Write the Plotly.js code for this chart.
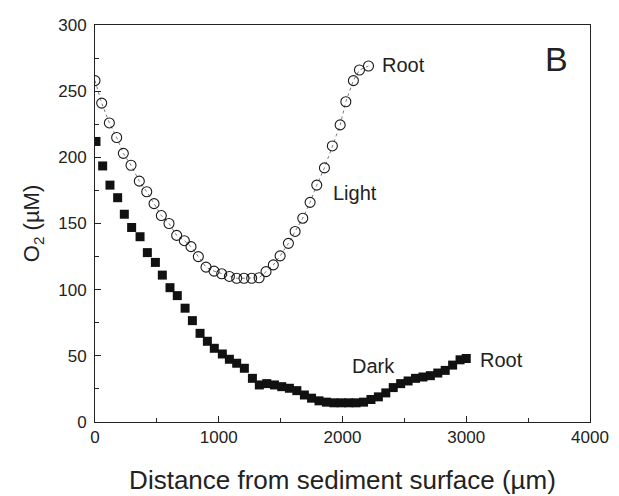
<!DOCTYPE html>
<html>
<head>
<meta charset="utf-8">
<script src="https://cdn.plot.ly/plotly-3.0.1.min.js"></script>
<style>html,body{margin:0;padding:0;background:#fff;}#chart{width:619px;height:496px;}</style>
</head>
<body>
<div id="chart"></div>
<script>
// Light (open circles)
const lightX = [0, 54, 116, 175, 229, 291, 358, 418, 477, 536, 598, 660, 722, 776, 835, 897, 962, 1024, 1086, 1145, 1204, 1266, 1326, 1382, 1441, 1496, 1563, 1617, 1679, 1738, 1792, 1854, 1918, 1981, 2027, 2088, 2137, 2210];
const lightY = [258, 241, 226, 215, 203, 194, 182, 174, 165, 156, 150, 141, 137, 132.5, 125, 117, 114, 112, 110, 108.6, 108.6, 108.6, 109, 113.6, 118.7, 125.5, 135, 144, 154, 166, 179, 192, 208.6, 224.5, 242, 258, 266, 269];
// Dark (filled squares)
const darkX = [8, 62, 121, 183, 237, 296, 364, 423, 488, 544, 606, 665, 728, 787, 849, 908, 964, 1029, 1086, 1145, 1207, 1272, 1328, 1388, 1450, 1509, 1571, 1631, 1692, 1750, 1810, 1870, 1930, 1990, 2050, 2110, 2170, 2230, 2290, 2350, 2410, 2470, 2530, 2590, 2650, 2710, 2770, 2830, 2890, 2950, 3000];
const darkY = [212, 193.5, 179, 169.5, 157, 147, 140, 128, 120.6, 111, 101.5, 95.5, 86, 76.6, 67, 61, 55.7, 51.4, 47.4, 44.4, 40.6, 33, 28, 29, 28, 26.7, 25.5, 23.7, 20.4, 18, 16, 15, 14.5, 14.5, 14.5, 14.5, 15, 17, 19, 22, 26, 29, 31, 33, 34, 35, 37, 39, 43, 47, 48];
const labelText = ["Root", "Light", "Dark", "Root", "B"];
const labelX = [2320, 1924, 2078, 3110, 3638];
const labelY = [270, 173, 42, 46.5, 274];

const FONT = "Liberation Sans, Arial, Helvetica, sans-serif";

const traces = [
  {x: lightX, y: lightY, type: 'scatter', mode: 'lines+markers',
   line: {color: '#555', width: 0.8, dash: 'dot'},
   marker: {symbol: 'circle-open', size: 10, color: '#1a1a1a', line: {width: 1.1, color: '#1a1a1a'}}},
  {x: darkX, y: darkY, type: 'scatter', mode: 'markers',
   marker: {symbol: 'square', size: 9, color: '#111', line: {width: 0}}}
];

const annotations = labelText.map((t, i) => ({
  x: labelX[i], y: labelY[i], xref: 'x', yref: 'y', text: t, showarrow: false,
  xanchor: 'left', yanchor: 'middle', xshift: -2,
  font: {family: FONT, size: i === 4 ? 34 : 20, color: '#222'}
}));

const layout = {
  width: 619, height: 496,
  margin: {l: 95, r: 29, t: 25, b: 74},
  paper_bgcolor: '#fff', plot_bgcolor: '#fff',
  showlegend: false,
  font: {family: FONT, color: '#222'},
  xaxis: {
    range: [0, 4000], dtick: 1000, tick0: 0,
    ticks: 'inside', ticklen: 6, tickwidth: 1, tickcolor: '#222',
    minor: {dtick: 500, ticks: 'inside', ticklen: 4, tickcolor: '#222'},
    showgrid: false, zeroline: false,
    showline: true, linecolor: '#222', linewidth: 1, mirror: true,
    tickfont: {size: 17, family: FONT, color: '#222'},
    title: {text: 'Distance from sediment surface (µm)', font: {size: 26, family: FONT, color: '#222'}, standoff: 24}
  },
  yaxis: {
    range: [0, 300], dtick: 50, tick0: 0,
    ticks: 'inside', ticklen: 6, tickwidth: 1, tickcolor: '#222',
    minor: {dtick: 25, ticks: 'inside', ticklen: 4, tickcolor: '#222'},
    showgrid: false, zeroline: false,
    showline: true, linecolor: '#222', linewidth: 1, mirror: true,
    tickfont: {size: 17, family: FONT, color: '#222'},
    ticklabelstandoff: 4,
    title: {text: 'O<sub>2</sub> (µM)', font: {size: 22, family: FONT, color: '#222'}, standoff: 12}
  },
  annotations: annotations
};

Plotly.newPlot('chart', traces, layout, {staticPlot: true, displayModeBar: false});
</script>
</body>
</html>
